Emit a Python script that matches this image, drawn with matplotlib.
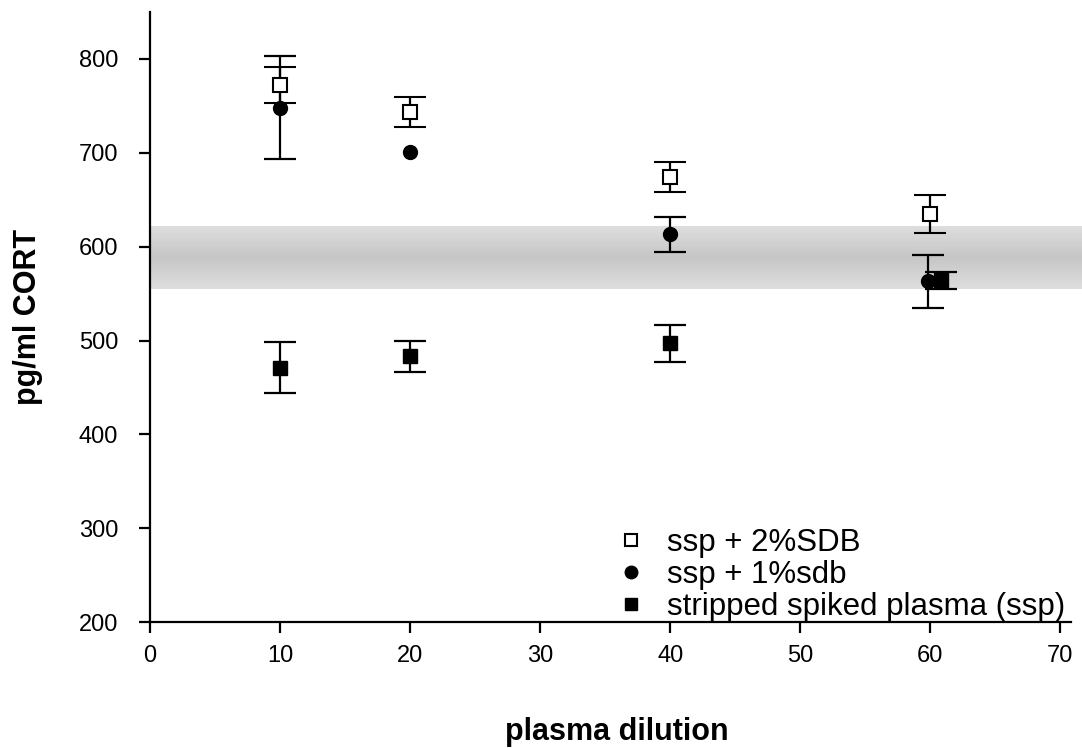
import numpy as np
import matplotlib
matplotlib.use("Agg")
import matplotlib.pyplot as plt
from matplotlib.colors import LinearSegmentedColormap
from matplotlib.lines import Line2D

plt.rcParams['font.family'] = ['Liberation Sans', 'DejaVu Sans']

# Data
x_sdb2 = [10, 20, 40, 60]
y_sdb2 = [772, 744, 674, 635]
e_sdb2 = [19, 16, 16, 20]

x_sdb1 = [10, 20, 40, 59.8]
y_sdb1 = [748, 701, 613, 563]
e_sdb1 = [55, 0, 19, 28]

x_ssp = [10, 20, 40, 60.8]
y_ssp = [471, 483, 497, 564]
e_ssp = [27, 17, 20, 9]

labels = ["ssp + 2%SDB", "ssp + 1%sdb", "stripped spiked plasma (ssp)"]
band_low, band_high = 555, 622


def err(e):
    # zero error -> no bar drawn
    return [v if v > 0 else np.nan for v in e]


fig = plt.figure(figsize=(10.82, 7.48), dpi=100)
ax = fig.add_axes([0.1386, 0.1684, 0.851, 0.8155])

# gradient band
cmap = LinearSegmentedColormap.from_list("band", ["#dedede", "#c6c6c6", "#dedede"])
grad = np.linspace(0, 1, 200).reshape(-1, 1)
ax.imshow(grad, cmap=cmap, aspect='auto', extent=[0, 72, band_low, band_high],
          origin='lower', zorder=0, clip_on=False)

kw = dict(ecolor='black', elinewidth=1.6, capsize=11.5, capthick=1.6, linestyle='none', zorder=3)
ax.errorbar(x_sdb2, y_sdb2, yerr=err(e_sdb2), marker='s', markersize=10, markerfacecolor='white',
            markeredgecolor='black', markeredgewidth=1.5, color='black', **kw)
ax.errorbar(x_sdb1, y_sdb1, yerr=err(e_sdb1), marker='o', markersize=10, markerfacecolor='black',
            markeredgecolor='black', color='black', **kw)
ax.errorbar(x_ssp, y_ssp, yerr=err(e_ssp), marker='s', markersize=10, markerfacecolor='black',
            markeredgecolor='black', color='black', **kw)

ax.set_xlim(0, 70.8)
ax.set_ylim(200, 850)
ax.set_xticks(range(0, 71, 10))
ax.set_yticks(range(200, 801, 100))
ax.spines['top'].set_visible(False)
ax.spines['right'].set_visible(False)
for s in ['left', 'bottom']:
    ax.spines[s].set_linewidth(1.6)
ax.tick_params(direction='out', length=8, width=1.6, labelsize=17)
ax.tick_params(axis='y', pad=15)
ax.tick_params(axis='x', pad=8.5)

ax.set_xlabel("plasma dilution", fontsize=22, fontweight='bold')
ax.set_ylabel("pg/ml CORT", fontsize=22, fontweight='bold')
ax.xaxis.set_label_coords(0.507, -0.155)
ax.yaxis.set_label_coords(-0.116, 0.5)

handles = [Line2D([], [], marker='s', markersize=9, markerfacecolor='white', markeredgecolor='black',
                  markeredgewidth=1.5, linestyle='none'),
           Line2D([], [], marker='o', markersize=9, markerfacecolor='black', markeredgecolor='black',
                  linestyle='none'),
           Line2D([], [], marker='s', markersize=9, markerfacecolor='black', markeredgecolor='black',
                  linestyle='none')]
ax.legend(handles, labels, loc='lower right', bbox_to_anchor=(1.018, -0.035), frameon=False,
          fontsize=22.5, handletextpad=0.75, labelspacing=0.06, handlelength=0.8,
          borderaxespad=0.3)

fig.savefig("out.png", dpi=100)
